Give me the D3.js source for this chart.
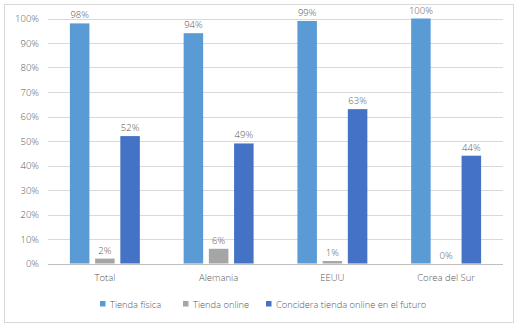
<!DOCTYPE html>
<html><head><meta charset="utf-8">
<script src="https://cdn.jsdelivr.net/npm/d3@7"></script>
<style>body{margin:0;background:#fff}svg text{font-family:"Open Sans","Noto Sans",sans-serif;font-weight:300;fill:#595959}</style>
</head><body><svg id="c" width="522" height="329"></svg>
<script>
const categories = ["Total","Alemania","EEUU","Corea del Sur"];
const seriesNames = ["Tienda física","Tienda online","Concidera tienda online en el futuro"];
const tiendaFisica = [98,94,99,100];
const tiendaOnline = [2,6,1,0];
const consideraFuturo = [52,49,63,44];
const yTicks = [0,10,20,30,40,50,60,70,80,90,100];
const colors = ["#5B9BD5","#A5A5A5","#4472C4"];

const series = [tiendaFisica, tiendaOnline, consideraFuturo];
const FS = "9.5px";
const svg = d3.select("#c");
svg.append("rect").attr("x",4.5).attr("y",4.5).attr("width",509).attr("height",318)
  .attr("fill","#fff").attr("stroke","#d9d9d9");

const x0 = d3.scaleBand().domain(categories).range([48,503]).paddingInner(0.385).paddingOuter(0.1925);
const x1 = d3.scaleBand().domain(d3.range(3)).range([0,x0.bandwidth()]).paddingInner(0.226);
const y = d3.scaleLinear().domain([0,100]).range([263.5,18.5]);

const g = svg.append("g");
g.selectAll("line.grid").data(yTicks).join("line")
  .attr("x1",48).attr("x2",503).attr("y1",d=>Math.round(y(d))+0.5).attr("y2",d=>Math.round(y(d))+0.5)
  .attr("stroke",d=>d===0?"#bfbfbf":"#d9d9d9").attr("stroke-width",1);

const yAxis = d3.axisLeft(y).tickValues(yTicks).tickFormat(d=>d+"%").tickSize(0).tickPadding(0);
const ya = svg.append("g").attr("transform","translate(39,0)").call(yAxis);
ya.select(".domain").remove();
ya.selectAll("text").attr("font-size",FS).attr("fill","#595959").attr("dy","0.35em");

const xAxis = d3.axisBottom(x0).tickSize(0).tickPadding(0);
const xa = svg.append("g").attr("transform","translate(0,274)").call(xAxis);
xa.select(".domain").remove();
xa.selectAll("text").attr("font-size",FS).attr("fill","#595959");

categories.forEach((c,ci)=>{
  series.forEach((s,si)=>{
    const xx = x0(c)+x1(si);
    svg.append("rect").attr("x",xx).attr("width",x1.bandwidth())
      .attr("y",y(s[ci])).attr("height",y(0)-y(s[ci])).attr("fill",colors[si]);
    svg.append("text").attr("x",xx+x1.bandwidth()/2).attr("y",y(s[ci])-5)
      .attr("text-anchor","middle").attr("font-size",FS).text(s[ci]+"%");
  });
});

const legendX = [100,183,266];
const lg = svg.append("g");
seriesNames.forEach((n,i)=>{
  lg.append("rect").attr("x",legendX[i]).attr("y",301).attr("width",5.5).attr("height",5.5).attr("fill",colors[i]);
  lg.append("text").attr("x",legendX[i]+10).attr("y",307.5).attr("font-size","9.3px").text(n);
});
</script></body></html>
